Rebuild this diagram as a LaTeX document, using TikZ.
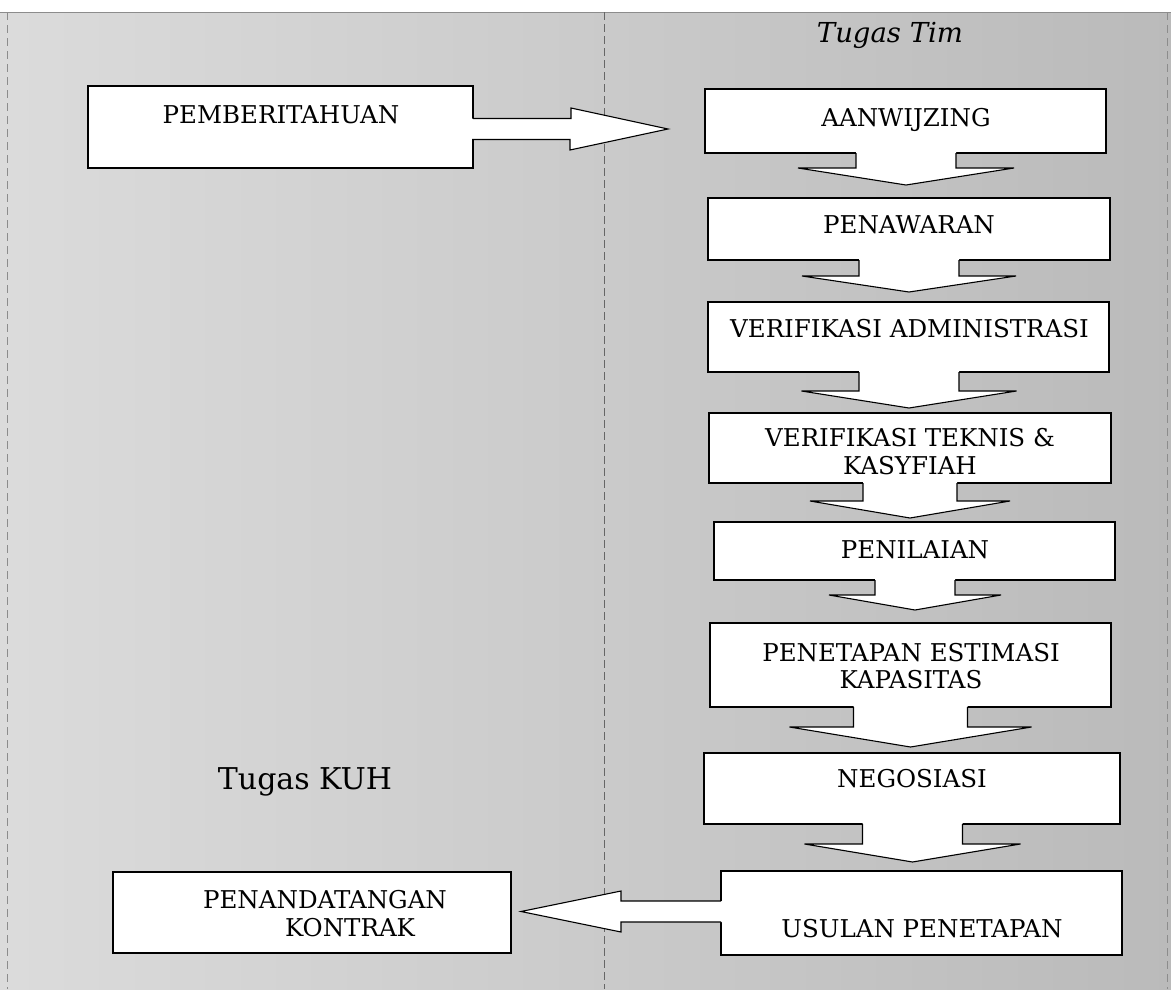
\documentclass[tikz,border=0pt]{standalone}
\usepackage{fontspec}
\setmainfont{DejaVu Serif}
\newfontfamily\boxfont{DejaVu Serif}
% #1 node, #2 dx, #3 shaft half width, #4 head half width, #5 shaft length, #6 head length
\newcommand\downarr[6]{%
  \fill[white] ([xshift={#2-#3}]#1.south) ++(0,-1.5) -- ++(0,{#5+1.5}) -- ++({#3-#4},0) -- ++(#4,#6) -- ++(#4,-#6) -- ++({#3-#4},0) -- ++(0,{-#5-1.5}) -- cycle;
  \draw[arr] ([xshift={#2-#3}]#1.south) -- ++(0,#5) -- ++({#3-#4},0) -- ++(#4,#6) -- ++(#4,-#6) -- ++({#3-#4},0) -- ++(0,-#5);
}
\begin{document}
\begin{tikzpicture}[x=1pt,y=-1pt,
  box/.style={draw=black, fill=white, line width=1.1pt, inner sep=0pt, outer sep=0pt, anchor=north west},
  lbl/.style={font=\boxfont\fontsize{24.5}{27.5}\selectfont, inner sep=0pt, align=center},
  arr/.style={draw=black, line width=1.1pt, line join=miter},
  frame/.style={draw=black!45, line width=0.6pt},
]
% background
\useasboundingbox (0,0) rectangle (1171,989);
\fill[white] (0,0) rectangle (1171,989);
\shade[left color=black!14, middle color=black!16, right color=black!27] (0,12) rectangle (1171,989);
\draw[frame] (0,12) -- (1171,12);
\draw[frame, dashed, dash pattern=on 8pt off 5pt] (7,12) -- (7,989);
\draw[frame, draw=black!60, dashed, dash pattern=on 8pt off 4pt] (604,12) -- (604,989);
\draw[frame, dashed, dash pattern=on 8pt off 5pt] (1167,12) -- (1167,989);

% headings
\node[font=\itshape\fontsize{27.5}{30}\selectfont, inner sep=0pt] (tim) at (890,35) {Tugas Tim};
\node[font=\fontsize{30}{34}\selectfont, inner sep=0pt] (kuh) at (305,782) {Tugas KUH};

% boxes
\node[box, minimum width=385pt, minimum height=82pt] (p) at (88,86) {};
\node[box, minimum width=401pt, minimum height=64pt] (a1) at (705,89) {};
\node[box, minimum width=402pt, minimum height=62pt] (a2) at (708,198) {};
\node[box, minimum width=401pt, minimum height=70pt] (a3) at (708,302) {};
\node[box, minimum width=402pt, minimum height=70pt] (a4) at (709,413) {};
\node[box, minimum width=401pt, minimum height=58pt] (a5) at (714,522) {};
\node[box, minimum width=401pt, minimum height=84pt] (a6) at (710,623) {};
\node[box, minimum width=416pt, minimum height=71pt] (a7) at (704,753) {};
\node[box, minimum width=401pt, minimum height=84pt] (a8) at (721,871) {};
\node[box, minimum width=398pt, minimum height=81pt] (k) at (113,872) {};

% labels
\node[lbl] (tp) at (281,115) {PEMBERITAHUAN};
\node[lbl] (t1) at (906,120) {AANWIJZING};
\node[lbl] (t2) at (909,225) {PENAWARAN};
\node[lbl] (t3) at (909.5,329) {VERIFIKASI ADMINISTRASI};
\node[lbl] (t4) at (910,451.5) {VERIFIKASI TEKNIS \&\\KASYFIAH};
\node[lbl] (t5) at (915,550) {PENILAIAN};
\node[lbl] (t6) at (911,666) {PENETAPAN ESTIMASI\\KAPASITAS};
\node[lbl] (t7) at (912,779) {NEGOSIASI};
\node[lbl] (t8) at (922,929) {USULAN PENETAPAN};
\node[lbl] (tk) at (325,913.5) {PENANDATANGAN\\\hspace*{50pt}KONTRAK};

% right arrow PEMBERITAHUAN -> AANWIJZING
\coordinate (ptip) at (668,129);
\fill[white] ([xshift=-1.5pt,yshift=8.5pt]p.east) -- ++(99.5,0) -- ++(0,-10.5) -- (ptip) -- ++(-98,21) -- ++(0,-10.5) -- ++(-99.5,0) -- cycle;
\draw[arr] ([yshift=8.5pt]p.east) -- ++(98,0) -- ++(0,-10.5) -- (ptip) -- ++(-98,21) -- ++(0,-10.5) -- ++(-98,0);

% down arrows
\downarr{a1}{0.5}{50}{108}{15}{17}
\downarr{a2}{0}{50}{107}{16}{16}
\downarr{a3}{0.5}{50}{107.5}{19}{17}
\downarr{a4}{0}{47}{100}{18}{17}
\downarr{a5}{0.5}{40}{86}{15}{15}
\downarr{a6}{0}{57}{121}{20}{20}
\downarr{a7}{0.5}{50}{108}{20}{18}

% left arrow USULAN -> PENANDATANGAN
\coordinate (ktip) at (521,911.5);
\fill[white] ([xshift=1.5pt,yshift=12pt]a8.west) -- ++(-101.5,0) -- ++(0,-10) -- (ktip) -- ++(100,20.5) -- ++(0,-10) -- ++(101.5,0) -- cycle;
\draw[arr] ([yshift=12pt]a8.west) -- ++(-100,0) -- ++(0,-10) -- (ktip) -- ++(100,20.5) -- ++(0,-10) -- ++(100,0);
\end{tikzpicture}
\end{document}
